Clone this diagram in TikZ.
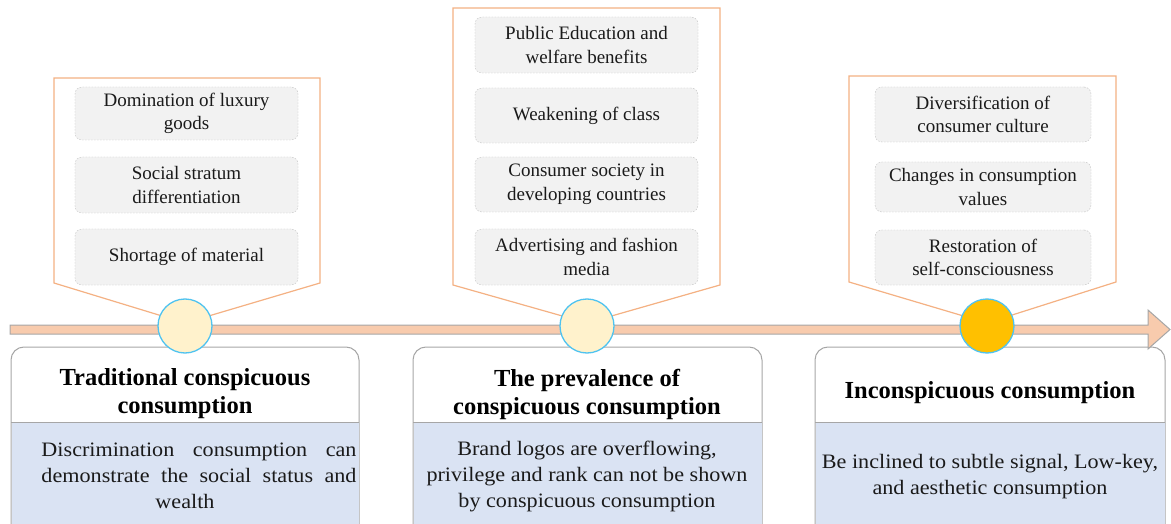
\documentclass[tikz,border=0pt]{standalone}
\usepackage{fontspec}
\setmainfont{Liberation Serif}
\newfontfamily\bodyfont{Liberation Serif}[FakeStretch=1.08]
\definecolor{peach}{HTML}{F8CBAD}
\definecolor{calline}{HTML}{F4B183}
\definecolor{bargray}{HTML}{A6A6A6}
\definecolor{ringblue}{HTML}{4FC3F0}
\definecolor{dotfill}{HTML}{FFF2CC}
\definecolor{dotgold}{HTML}{FFC000}
\definecolor{boxgray}{HTML}{F2F2F2}
\definecolor{dashgray}{HTML}{BFBFBF}
\definecolor{bluefill}{HTML}{DAE3F3}
\definecolor{txt}{HTML}{1A1A1A}
\tikzset{
  sbox/.style={draw=dashgray, dash pattern=on 1.5pt off 1.5pt, fill=boxgray, rounded corners=7pt,
    minimum width=223pt, align=center, inner sep=2pt, text=txt,
    font=\fontsize{19}{23.5}\selectfont},
  callout/.style={draw=calline, line width=1.2pt, fill=white},
  dotnode/.style={circle, draw=ringblue, line width=1.3pt, minimum size=54pt, inner sep=0pt},
  headtxt/.style={align=center, font=\fontsize{24.5}{28}\selectfont\bfseries, text=black},
  bodytxt/.style={align=center, font=\bodyfont\fontsize{20.5}{26}\selectfont, text=txt},
  panel/.style={draw=bargray, line width=1pt, fill=white, rounded corners=13pt},
}
\begin{document}
\begin{tikzpicture}[x=1pt,y=-1pt]
\useasboundingbox (0,0) rectangle (1171,524);
\clip (0,0) rectangle (1171,524);
% callouts
\draw[callout] (54,78) -- (320,78) -- (320,283) -- (185,323) -- (54,283) -- cycle;
\draw[callout] (453,8) -- (720,8) -- (720,285) -- (587,323) -- (453,285) -- cycle;
\draw[callout] (849,76) -- (1116,76) -- (1116,282) -- (987,323) -- (849,282) -- cycle;
% small boxes
\node[sbox, minimum height=53pt] (a1) at (186.5,113.5) {Domination of luxury\\goods};
\node[sbox, minimum height=56pt] (a2) at (186.5,185) {Social stratum\\differentiation};
\node[sbox, minimum height=56pt] (a3) at (186.5,257) {Shortage of material};
\node[sbox, minimum height=56pt] (b1) at (586.5,45) {Public Education and\\welfare benefits};
\node[sbox, minimum height=55pt] (b2) at (586.5,115.5) {Weakening of class};
\node[sbox, minimum height=55pt] (b3) at (586.5,184.5) {Consumer society in\\developing countries};
\node[sbox, minimum height=56pt] (b4) at (586.5,257) {Advertising and fashion\\media};
\node[sbox, minimum width=216pt, minimum height=55pt] (c1) at (983,114.5) {Diversification of\\consumer culture};
\node[sbox, minimum width=216pt, minimum height=50pt] (c2) at (983,187) {Changes in consumption\\values};
\node[sbox, minimum width=216pt, minimum height=55pt] (c3) at (983,257.5) {Restoration of\\self-consciousness};
% bottom panels
\foreach \xl/\xr in {11/359, 413/762, 815/1165}{
  \path[panel] (\xl,570) rectangle (\xr,347);
  \fill[bluefill] (\xl+0.5,422) rectangle (\xr-0.5,570);
  \draw[bargray, line width=1pt] (\xl,422) -- (\xr,422);
}
\node[headtxt] (h1) at (185,394) {Traditional conspicuous\\consumption};
\node[headtxt] (h2) at (587,394) {The prevalence of\\conspicuous consumption};
\node[headtxt] (h3) at (990,393) {Inconspicuous consumption};
\node[bodytxt] (t1) at (199,476) {\makebox[315pt][s]{Discrimination consumption can}\\\makebox[315pt][s]{demonstrate the social status and}\\\hspace*{-28pt}wealth};
\node[bodytxt] (t2) at (587,476) {Brand logos are overflowing,\\privilege and rank can not be shown\\by conspicuous consumption};
\node[bodytxt] (t3) at (990,477) {Be inclined to subtle signal, Low-key,\\and aesthetic consumption};
% timeline arrow
\draw[fill=peach, draw=bargray, line width=1pt] (10,325) -- (1148,325) -- (1148,310) -- (1170,329.5) -- (1148,349) -- (1148,334) -- (10,334) -- cycle;
% dots
\node[dotnode, fill=dotfill] (d1) at (185,326) {};
\node[dotnode, fill=dotfill] (d2) at (587,326) {};
\node[dotnode, fill=dotgold] (d3) at (987,326) {};
\end{tikzpicture}
\end{document}
